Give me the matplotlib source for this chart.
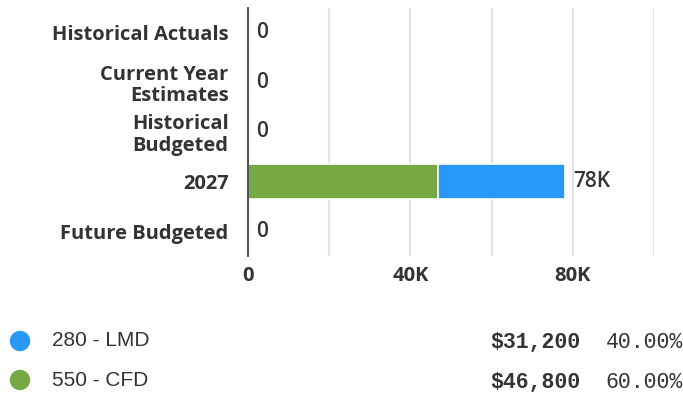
import matplotlib
matplotlib.use("Agg")
import matplotlib.pyplot as plt
from matplotlib.patches import Ellipse

categories = ["Historical Actuals", "Current Year\nEstimates", "Historical\nBudgeted", "2027", "Future Budgeted"]
cfd_values = [0, 0, 0, 46800, 0]
lmd_values = [0, 0, 0, 31200, 0]
totals_labels = ["0", "0", "0", "78K", "0"]
grid_ticks = [0, 20000, 40000, 60000, 80000, 100000]
xtick_labels = ["0", "", "40K", "", "80K", ""]
legend_names = ["280 - LMD", "550 - CFD"]
legend_amounts = ["$31,200", "$46,800"]
legend_pcts = ["40.00%", "60.00%"]

blue = "#2899f8"
green = "#76a944"
text_dark = "#333333"

W, H = 683, 398
fig = plt.figure(figsize=(W / 100, H / 100), dpi=100)
ax = fig.add_axes([248 / W, 1 - 256 / H, (654 - 248) / W, (256 - 8) / H])

ypos = list(range(len(categories)))
ax.barh(ypos, cfd_values, height=0.7, color=green, edgecolor="white", linewidth=1.2, zorder=3)
ax.barh(ypos, lmd_values, left=cfd_values, height=0.7, color=blue, edgecolor="white", linewidth=1.2, zorder=3)

ax.set_xlim(0, 100000)
ax.set_ylim(len(categories) - 0.5, -0.5)
ax.set_xticks(grid_ticks)
ax.set_xticklabels(xtick_labels)
ax.tick_params(axis="x", length=0, pad=7, labelsize=14.5, labelcolor=text_dark)
for lab in ax.get_xticklabels():
    lab.set_fontfamily("Open Sans")
    lab.set_fontweight("bold")
ax.set_yticks(ypos)
ax.set_yticklabels(categories, fontfamily="Open Sans", fontweight="bold", fontsize=14.5, color=text_dark, linespacing=1.1)
ax.tick_params(axis="y", length=0, pad=14)
ax.grid(axis="x", color="#e3e3e3", linewidth=1.5, zorder=0)
ax.set_axisbelow(True)
for s in ["top", "right", "bottom"]:
    ax.spines[s].set_visible(False)
ax.spines["left"].set_color("#333333")
ax.spines["left"].set_linewidth(1.2)
ax.spines["left"].set_zorder(4)

for i, lab in enumerate(totals_labels):
    tot = cfd_values[i] + lmd_values[i]
    ax.annotate(lab, (tot, i), xytext=(6, 0), textcoords="offset points",
                va="center", ha="left", fontsize=15, fontweight="semibold",
                color=text_dark, fontfamily="Open Sans")

# legend
ys = [341, 380]
colors = [blue, green]
for y, c, name, amt, pct in zip(ys, colors, legend_names, legend_amounts, legend_pcts):
    fig.patches.append(Ellipse((20 / W, 1 - y / H), 19 / W, 19 / H,
                               transform=fig.transFigure, color=c))
    fig.text(52 / W, 1 - y / H, name, ha="left", va="center", fontsize=15,
             fontfamily="Liberation Sans", color=text_dark)
    fig.text(580 / W, 1 - (y + 2) / H, amt, ha="right", va="center", fontsize=15.5,
             fontfamily="Liberation Mono", fontweight="bold", color=text_dark)
    fig.text(683 / W, 1 - (y + 2) / H, pct, ha="right", va="center", fontsize=15.5,
             fontfamily="Liberation Mono", color=text_dark)

fig.savefig("out.png", dpi=100)
